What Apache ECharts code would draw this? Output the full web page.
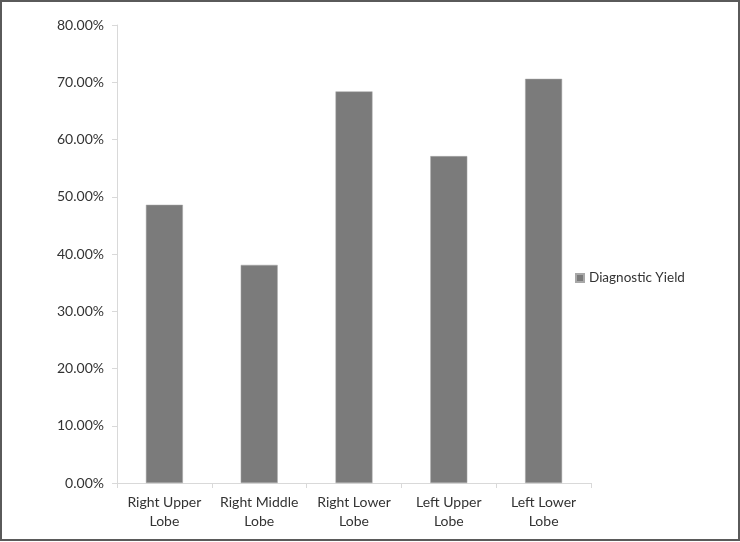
<!DOCTYPE html>
<html lang="en">

<head>
    <meta charset="UTF-8">
    <script src="https://cdn.jsdelivr.net/npm/echarts@6/dist/echarts.min.js"></script>
    <style>
        html, body {
            margin: 0;
            padding: 0;
            background: #fff;
        }

        #frame {
            position: absolute;
            left: 0;
            top: 0;
            width: 740px;
            height: 541px;
            box-sizing: border-box;
            border: 2px solid #5a5a5a;
        }

        #chart {
            position: absolute;
            left: 0;
            top: 0;
            width: 740px;
            height: 542px;
        }
    </style>
    <title>Diagnostic Yield</title>
</head>

<body>
    <div id="chart"></div>
    <div id="frame"></div>
    <script type="text/javascript">
        // data
        var categories = ['Right Upper\nLobe', 'Right Middle\nLobe', 'Right Lower\nLobe', 'Left Upper\nLobe', 'Left Lower\nLobe'];
        var yieldValues = [48.6, 38.1, 68.4, 57.1, 70.6];
        var seriesName = 'Diagnostic Yield';

        var fontFamily = 'Lato, "Open Sans", sans-serif';
        var chart = echarts.init(document.getElementById('chart'));
        var option = {
            animation: false,
            grid: {
                left: 117,
                right: 149,
                top: 25,
                bottom: 59
            },
            legend: {
                orient: 'vertical',
                left: 570,
                top: 266,
                icon: 'rect',
                itemWidth: 8,
                itemHeight: 8,
                itemGap: 4,
                textStyle: {
                    fontFamily: fontFamily,
                    fontSize: 13.5,
                    color: '#333'
                },
                data: [seriesName]
            },
            xAxis: {
                type: 'category',
                data: categories,
                axisLine: { lineStyle: { color: '#d9d9d9' } },
                axisTick: { show: true, length: 5, lineStyle: { color: '#d9d9d9' } },
                axisLabel: {
                    interval: 0,
                    margin: 10,
                    color: '#333',
                    fontFamily: fontFamily,
                    fontSize: 14,
                    lineHeight: 19
                }
            },
            yAxis: {
                type: 'value',
                min: 0,
                max: 80,
                interval: 10,
                splitLine: { show: false },
                axisLine: { show: true, lineStyle: { color: '#d9d9d9' } },
                axisTick: { show: true, length: 5, lineStyle: { color: '#d9d9d9' } },
                axisLabel: {
                    margin: 13,
                    color: '#333',
                    fontFamily: fontFamily,
                    fontSize: 14,
                    formatter: function (v) {
                        return v.toFixed(2) + '%';
                    }
                }
            },
            series: [{
                name: seriesName,
                type: 'bar',
                data: yieldValues,
                barWidth: '39%',
                itemStyle: {
                    color: '#7b7b7b',
                    borderColor: '#a8a8a8',
                    borderWidth: 0.5
                }
            }]
        };
        chart.setOption(option);
    </script>
</body>

</html>
